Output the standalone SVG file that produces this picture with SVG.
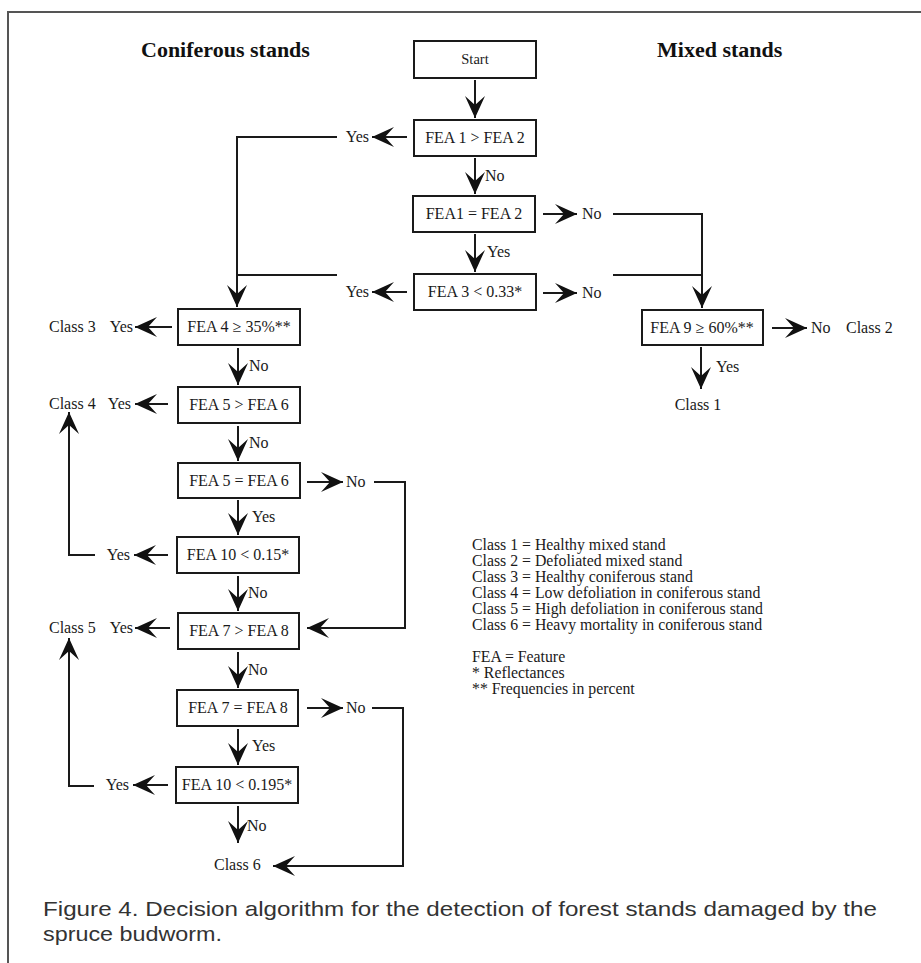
<svg xmlns="http://www.w3.org/2000/svg" width="921" height="963" viewBox="0 0 921 963">
<style>
.bg{fill:#ffffff}
.frame{fill:none;stroke:#555;stroke-width:2}
.box{fill:#fff;stroke:#1a1a1a;stroke-width:2}
.t{font-family:"Liberation Serif","Times New Roman",serif;font-size:16px;fill:#1a1a1a}
.c{text-anchor:middle}
.e{text-anchor:end}
.h{font-family:"Liberation Serif","Times New Roman",serif;font-size:22px;font-weight:bold;fill:#111}
.lg{font-family:"Liberation Serif","Times New Roman",serif;font-size:15.8px;fill:#1a1a1a}
.cap{font-family:"Liberation Sans",Arial,sans-serif;font-size:21px;fill:#333}
.ln{fill:none;stroke:#1a1a1a;stroke-width:2}
.ar{fill:none;stroke:#1a1a1a;stroke-width:2;marker-end:url(#ah)}
</style>
<defs>
<marker id="ah" markerUnits="userSpaceOnUse" markerWidth="26" markerHeight="24" viewBox="-24 -12 26 24" refX="0" refY="0" orient="auto">
<path d="M0,0 L-22,-10 L-13,0 L-22,10 Z" fill="#111"/>
</marker>
</defs>
<rect class="bg" x="0" y="0" width="921" height="963"/>
<path class="frame" d="M921,12 L8,12 L8,963"/>

<text class="h" x="141" y="57">Coniferous stands</text>
<text class="h" x="657" y="57">Mixed stands</text>

<g id="start"><rect class="box" x="414" y="41" width="122" height="37"/><text class="t c" x="475" y="64" style="font-size:14.5px">Start</text></g>
<g id="n1"><rect class="box" x="414" y="120" width="122" height="36"/><text class="t c" x="475" y="143">FEA 1 &gt; FEA 2</text></g>
<g id="n2"><rect class="box" x="413" y="196" width="122" height="36"/><text class="t c" x="474" y="219">FEA1 = FEA 2</text></g>
<g id="n3"><rect class="box" x="414" y="274" width="122" height="36"/><text class="t c" x="475" y="297">FEA 3 &lt; 0.33*</text></g>
<g id="n9"><rect class="box" x="642" y="310" width="121" height="35"/><text class="t c" x="702" y="333">FEA 9 ≥ 60%**</text></g>
<g id="n4"><rect class="box" x="178" y="309" width="122" height="36"/><text class="t c" x="239" y="332">FEA 4 ≥ 35%**</text></g>
<g id="n5"><rect class="box" x="178" y="387" width="122" height="36"/><text class="t c" x="239" y="410">FEA 5 &gt; FEA 6</text></g>
<g id="n6"><rect class="box" x="178" y="463" width="122" height="35"/><text class="t c" x="239" y="486">FEA 5 = FEA 6</text></g>
<g id="n10a"><rect class="box" x="177" y="537" width="122" height="36"/><text class="t c" x="238" y="560">FEA 10 &lt; 0.15*</text></g>
<g id="n7"><rect class="box" x="178" y="613" width="121" height="36"/><text class="t c" x="239" y="636">FEA 7 &gt; FEA 8</text></g>
<g id="n8"><rect class="box" x="177" y="690" width="121" height="36"/><text class="t c" x="238" y="713">FEA 7 = FEA 8</text></g>
<g id="n10b"><rect class="box" x="176" y="767" width="122" height="36"/><text class="t c" x="237" y="790">FEA 10 &lt; 0.195*</text></g>

<g id="class1"><text class="t c" x="698" y="410">Class 1</text></g>
<g id="class2"><text class="t" x="846" y="333">Class 2</text></g>
<g id="class3"><text class="t" x="49" y="332">Class 3</text></g>
<g id="class4"><text class="t" x="49" y="409">Class 4</text></g>
<g id="class5"><text class="t" x="49" y="633">Class 5</text></g>
<g id="class6"><text class="t" x="214" y="870">Class 6</text></g>

<g id="connectors">
<path class="ar" d="M475,80 L475,118"/>
<path class="ar" d="M475,158 L475,194"/>
<path class="ar" d="M475,234 L475,272"/>
<path class="ar" d="M407,137 L372,137"/>
<path class="ln" d="M337,137 L237,137"/>
<path class="ar" d="M237,136 L237,307"/>
<path class="ar" d="M407,292 L372,292"/>
<path class="ln" d="M337,275 L237,275"/>
<path class="ar" d="M543,214 L577,214"/>
<path class="ar" d="M613,214 L702,214 L702,308"/>
<path class="ar" d="M543,293 L577,293"/>
<path class="ln" d="M613,275 L702,275"/>
<path class="ar" d="M701,347 L701,389"/>
<path class="ar" d="M772,328 L807,328"/>

<path class="ar" d="M172,327 L135,327"/>
<path class="ar" d="M238,348 L238,385"/>
<path class="ar" d="M168,404 L135,404"/>
<path class="ar" d="M238,426 L238,461"/>
<path class="ar" d="M307,482 L343,482"/>
<path class="ar" d="M374,482 L405,482 L405,628 L307,628"/>
<path class="ar" d="M238,500 L238,535"/>
<path class="ar" d="M168,555 L134,555"/>
<path class="ar" d="M95,555 L69,555 L69,412"/>
<path class="ar" d="M238,576 L238,611"/>
<path class="ar" d="M170,628 L135,628"/>
<path class="ar" d="M238,652 L238,688"/>
<path class="ar" d="M307,708 L343,708"/>
<path class="ar" d="M372,708 L403,708 L403,866 L273,866"/>
<path class="ar" d="M238,729 L238,765"/>
<path class="ar" d="M168,785 L133,785"/>
<path class="ar" d="M94,786 L69,786 L69,638"/>
<path class="ar" d="M238,806 L238,843"/>

<text class="t" x="485" y="181">No</text>
<text class="t" x="487" y="257">Yes</text>
<text class="t e" x="369" y="142">Yes</text>
<text class="t e" x="369" y="297">Yes</text>
<text class="t" x="582" y="219">No</text>
<text class="t" x="582" y="298">No</text>
<text class="t" x="716" y="372">Yes</text>
<text class="t" x="811" y="333">No</text>

<text class="t e" x="133" y="332">Yes</text>
<text class="t" x="249" y="371">No</text>
<text class="t e" x="131" y="409">Yes</text>
<text class="t" x="249" y="448">No</text>
<text class="t" x="346" y="487">No</text>
<text class="t" x="252" y="522">Yes</text>
<text class="t e" x="130" y="560">Yes</text>
<text class="t" x="248" y="598">No</text>
<text class="t e" x="133" y="633">Yes</text>
<text class="t" x="248" y="675">No</text>
<text class="t" x="346" y="713">No</text>
<text class="t" x="252" y="751">Yes</text>
<text class="t e" x="129" y="790">Yes</text>
<text class="t" x="247" y="831">No</text>
</g>

<g id="legend">
<text class="lg" x="472" y="550">Class 1 = Healthy mixed stand</text>
<text class="lg" x="472" y="566">Class 2 = Defoliated mixed stand</text>
<text class="lg" x="472" y="582">Class 3 = Healthy coniferous stand</text>
<text class="lg" x="472" y="598">Class 4 = Low defoliation in coniferous stand</text>
<text class="lg" x="472" y="614">Class 5 = High defoliation in coniferous stand</text>
<text class="lg" x="472" y="630">Class 6 = Heavy mortality in coniferous stand</text>
<text class="lg" x="472" y="662">FEA = Feature</text>
<text class="lg" x="472" y="678">* Reflectances</text>
<text class="lg" x="472" y="694">** Frequencies in percent</text>
</g>

<g id="caption">
<text class="cap" x="43" y="916" textLength="834" lengthAdjust="spacingAndGlyphs">Figure 4. Decision algorithm for the detection of forest stands damaged by the</text>
<text class="cap" x="43" y="941" textLength="179" lengthAdjust="spacingAndGlyphs">spruce budworm.</text>
</g>
</svg>
